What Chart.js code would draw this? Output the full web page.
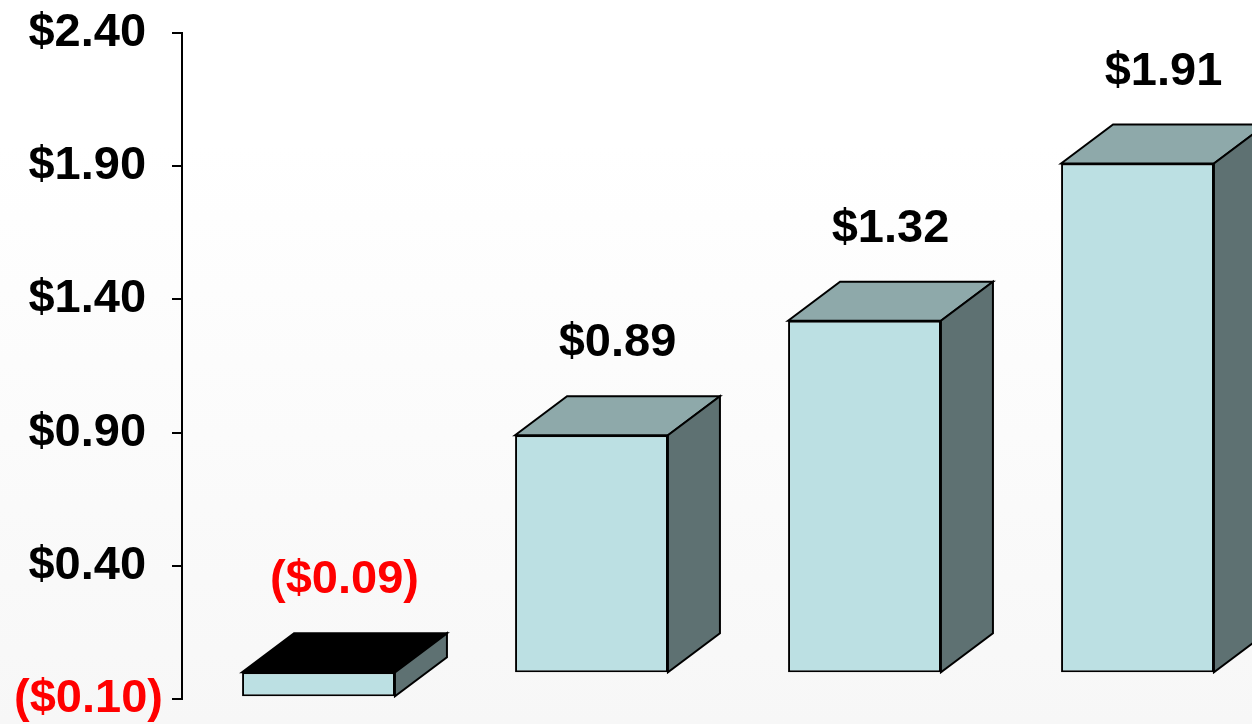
<!DOCTYPE html>
<html><head><meta charset="utf-8">
<script src="https://cdn.jsdelivr.net/npm/chart.js@4.4.1/dist/chart.umd.min.js"></script>
<style>
html,body{margin:0;padding:0;overflow:hidden;background:#fff}
#wrap{width:1274px;height:724px;position:relative}
</style>
</head><body>
<div id="wrap"><canvas id="c"></canvas></div>
<script>
// ---- data ----
const categories = ['Year 1', 'Year 2', 'Year 3', 'Year 4'];
const epsValues = [-0.09, 0.89, 1.32, 1.91];
const valueLabels = ['($0.09)', '$0.89', '$1.32', '$1.91'];
const yTickValues = [-0.10, 0.40, 0.90, 1.40, 1.90, 2.40];
const yTickLabels = ['($0.10)', '$0.40', '$0.90', '$1.40', '$1.90', '$2.40'];

// ---- style ----
const FONT = '"Liberation Sans", Arial, sans-serif';
const RED = '#ff0000';
const FRONT = '#bce0e3';
const TOPC = '#8ea9aa';
const SIDE = '#5e7172';
const DX = 52, DY = 39, GAP = 40;

const bgPlugin = {
  id: 'bg',
  beforeDraw(chart) {
    const { ctx, width, height } = chart;
    const g = ctx.createLinearGradient(0, 0, 0, height);
    g.addColorStop(0, '#ffffff');
    g.addColorStop(0.2, '#ffffff');
    g.addColorStop(1, '#f7f7f7');
    ctx.save();
    ctx.fillStyle = g;
    ctx.fillRect(0, 0, width, height);
    ctx.restore();
  }
};

function poly(ctx, pts, fill) {
  ctx.beginPath();
  ctx.moveTo(pts[0][0], pts[0][1]);
  for (let k = 1; k < pts.length; k++) ctx.lineTo(pts[k][0], pts[k][1]);
  ctx.closePath();
  ctx.fillStyle = fill;
  ctx.fill();
  ctx.stroke();
}

const box3d = {
  id: 'box3d',
  afterDatasetsDraw(chart) {
    const ctx = chart.ctx;
    const meta = chart.getDatasetMeta(0);
    const y0 = chart.scales.y.getPixelForValue(0);
    ctx.save();
    ctx.lineWidth = 2;
    ctx.strokeStyle = '#000';
    ctx.lineJoin = 'miter';
    meta.data.forEach((bar, i) => {
      const p = bar.getProps(['x', 'y', 'width'], true);
      const l = p.x - p.width / 2, r = p.x + p.width / 2;
      const top = Math.min(p.y, y0), bottom = Math.max(p.y, y0);
      poly(ctx, [[l, top], [l + DX, top - DY], [r + DX, top - DY], [r, top]], epsValues[i] < 0 ? '#000000' : TOPC);
      poly(ctx, [[r, top], [r + DX, top - DY], [r + DX, bottom - DY], [r, bottom]], SIDE);
      ctx.fillStyle = epsValues[i] < 0 ? RED : '#000';
      ctx.font = 'bold 47px ' + FONT;
      ctx.textAlign = 'center';
      ctx.textBaseline = 'alphabetic';
      ctx.fillText(valueLabels[i], p.x + DX / 2, top - DY - GAP);
    });
    ctx.restore();
  }
};

new Chart(document.getElementById('c'), {
  type: 'bar',
  data: {
    labels: categories,
    datasets: [{
      data: epsValues,
      backgroundColor: FRONT,
      borderColor: '#000',
      borderWidth: 2,
      borderSkipped: false,
      barPercentage: 0.56,
      categoryPercentage: 1
    }]
  },
  options: {
    responsive: true,
    maintainAspectRatio: false,
    animation: false,
    events: [],
    layout: { padding: { top: 33, bottom: 25, left: 0, right: 0 } },
    plugins: { legend: { display: false }, tooltip: { enabled: false } },
    scales: {
      x: { display: false, offset: true },
      y: {
        min: -0.10,
        max: 2.40,
        afterFit(scale) { scale.width = 182; scale.paddingTop = 0; scale.paddingBottom = 0; },
        afterBuildTicks(scale) { scale.ticks = yTickValues.map(v => ({ value: v })); },
        border: { display: true, color: '#000', width: 2 },
        grid: { drawOnChartArea: false, drawTicks: true, tickLength: 10, color: '#000', lineWidth: 2 },
        ticks: {
          padding: 9,
          font: { family: FONT, size: 47, weight: 'bold', lineHeight: 1 },
          color: (c) => (c.tick && c.tick.value < 0 ? RED : '#000'),
          callback: (value, index) => yTickLabels[index] + (value >= 0 ? '\u2008\u200A' : '')
        }
      }
    }
  },
  plugins: [bgPlugin, box3d]
});
</script>
</body></html>
